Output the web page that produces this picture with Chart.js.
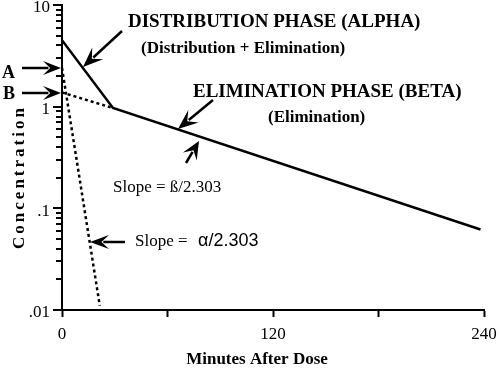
<!DOCTYPE html>
<html>
<head>
<meta charset="utf-8">
<script src="https://cdn.jsdelivr.net/npm/chart.js@4"></script>
<style>
  html, body { margin: 0; padding: 0; background: #fff; }
</style>
</head>
<body>
<canvas id="pkChart" width="500" height="369"></canvas>
<script>
// observed concentration curve (solid)
const curveTimes = [0, 29, 238];
const curveConc = [4.5, 0.97, 0.062];

// back-extrapolated elimination phase (dotted, intercept B)
const betaTimes = [0, 29];
const betaConc = [1.38, 0.97];

// residual distribution phase (dotted, intercept A)
const alphaTimes = [0, 21.5];
const alphaConc = [2.4, 0.011];

// axis ticks
const xTickValues = [0, 60, 120, 180, 240];
const xTickLabels = ["0", "", "120", "", "240"];
const yTickValues = [0.01, 0.02, 0.03, 0.04, 0.05, 0.06, 0.07, 0.08, 0.09,
                     0.1, 0.2, 0.3, 0.4, 0.5, 0.6, 0.7, 0.8, 0.9,
                     1, 2, 3, 4, 5, 6, 7, 8, 9, 10];
const yDecades = [0.01, 0.1, 1, 10];
const yDecadeLabels = [".01", ".1", "1", "10"];

const SERIF = '"Liberation Serif", "Times New Roman", serif';
const SANS = '"Liberation Sans", Arial, sans-serif';

function toPoints(xs, ys) {
    return xs.map((x, i) => ({ x: x, y: ys[i] }));
}

function decadeIndex(v) {
    return yDecades.findIndex(d => Math.abs(d - v) < d * 1e-6);
}

function drawArrow(ctx, x1, y1, x2, y2, head, wing) {
    const a = Math.atan2(y2 - y1, x2 - x1);
    const c = Math.cos(a), s = Math.sin(a);
    ctx.beginPath();
    ctx.moveTo(x1, y1);
    ctx.lineTo(x2 - head * 0.7 * c, y2 - head * 0.7 * s);
    ctx.lineWidth = 2.5;
    ctx.stroke();
    ctx.beginPath();
    ctx.moveTo(x2, y2);
    ctx.lineTo(x2 - head * c + wing * s, y2 - head * s - wing * c);
    ctx.lineTo(x2 - head * 0.6 * c, y2 - head * 0.6 * s);
    ctx.lineTo(x2 - head * c - wing * s, y2 - head * s + wing * c);
    ctx.closePath();
    ctx.fill();
}

// log-axis tick marks: long on decades, short in between
const logTicks = {
    id: "logTicks",
    afterDraw(chart) {
        const ctx = chart.ctx;
        const ys = chart.scales.y;
        const axisX = Math.round(chart.chartArea.left) + 1;
        ctx.save();
        ctx.setLineDash([]);
        ctx.fillStyle = "#000";
        yTickValues.forEach(v => {
            const py = Math.round(ys.getPixelForValue(v));
            const len = decadeIndex(v) >= 0 ? 10 : 7;
            ctx.fillRect(axisX - len, py - 1, len, 2);
        });
        ctx.restore();
    }
};

const annotations = {
    id: "annotations",
    afterDraw(chart) {
        const ctx = chart.ctx;
        ctx.save();
        ctx.setLineDash([]);
        ctx.fillStyle = "#000";
        ctx.strokeStyle = "#000";
        ctx.textBaseline = "alphabetic";
        ctx.textAlign = "left";

        ctx.font = "bold 19px " + SERIF;
        ctx.fillText("DISTRIBUTION PHASE (ALPHA)", 128, 27);
        ctx.fillText("ELIMINATION PHASE (BETA)", 193, 97);

        ctx.font = "bold 17px " + SERIF;
        ctx.fillText("(Distribution + Elimination)", 141, 53);
        ctx.fillText("(Elimination)", 268, 122);

        ctx.font = "17px " + SERIF;
        ctx.fillText("Slope = \u00DF/2.303", 113, 192);
        ctx.fillText("Slope = ", 135, 246);
        ctx.font = "18px " + SANS;
        ctx.fillText("\u03B1/2.303", 198, 246);

        ctx.font = "bold 18px " + SERIF;
        ctx.fillText("A", 2, 78);
        ctx.fillText("B", 3, 99);

        // arrows
        drawArrow(ctx, 122, 31, 83, 67, 20, 8);
        drawArrow(ctx, 213, 100, 178, 129, 20, 8);
        drawArrow(ctx, 186, 163, 199, 141, 18, 8);
        drawArrow(ctx, 22, 68, 61, 68, 18, 7);
        drawArrow(ctx, 22, 93, 61, 93, 18, 7);
        drawArrow(ctx, 125, 242, 90, 242, 19, 7);

        // axis titles
        ctx.font = "bold 17px " + SERIF;
        ctx.textAlign = "center";
        ctx.fillText("Minutes After Dose", 257, 364);

        ctx.translate(20, 177);
        ctx.rotate(-Math.PI / 2);
        ctx.letterSpacing = "3px";
        ctx.textBaseline = "middle";
        ctx.fillText("Concentration", 0, 0);
        ctx.restore();
    }
};

new Chart(document.getElementById("pkChart"), {
    type: "scatter",
    data: {
        datasets: [{
            data: toPoints(curveTimes, curveConc),
            showLine: true,
            borderColor: "#000",
            borderWidth: 2.5,
            pointRadius: 0
        }, {
            data: toPoints(betaTimes, betaConc),
            showLine: true,
            borderColor: "#000",
            borderWidth: 2.5,
            borderDash: [3, 3],
            pointRadius: 0
        }, {
            data: toPoints(alphaTimes, alphaConc),
            showLine: true,
            borderColor: "#000",
            borderWidth: 2.5,
            borderDash: [3, 3],
            pointRadius: 0
        }]
    },
    options: {
        responsive: false,
        animation: false,
        devicePixelRatio: 1,
        layout: { padding: { left: 0, top: 5, right: 16, bottom: 0 } },
        plugins: {
            legend: { display: false },
            tooltip: { enabled: false }
        },
        scales: {
            x: {
                type: "linear",
                min: 0,
                max: 240,
                afterBuildTicks: s => { s.ticks = xTickValues.map(v => ({ value: v })); },
                afterFit: s => {
                    s.height = 59;
                    s.paddingLeft = 0;
                    s.paddingRight = 0;
                },
                ticks: {
                    autoSkip: false,
                    maxRotation: 0,
                    padding: 7,
                    color: "#000",
                    font: { family: SERIF, size: 17 },
                    callback: (v, i) => xTickLabels[i]
                },
                grid: {
                    drawOnChartArea: false,
                    tickLength: 7,
                    tickWidth: 2,
                    tickColor: "#000"
                },
                border: { display: true, color: "#000", width: 2 }
            },
            y: {
                type: "logarithmic",
                min: 0.01,
                max: 10,
                afterBuildTicks: s => { s.ticks = yDecades.map(v => ({ value: v })); },
                afterFit: s => {
                    s.width = 62;
                    s.paddingTop = 0;
                    s.paddingBottom = 0;
                },
                ticks: {
                    autoSkip: false,
                    padding: 12,
                    labelOffset: 3,
                    color: "#000",
                    font: { family: SERIF, size: 17 },
                    callback: v => {
                        const k = decadeIndex(v);
                        return k >= 0 ? yDecadeLabels[k] : "";
                    }
                },
                grid: {
                    drawOnChartArea: false,
                    drawTicks: false
                },
                border: { display: true, color: "#000", width: 2 }
            }
        }
    },
    plugins: [logTicks, annotations]
});
</script>
</body>
</html>
